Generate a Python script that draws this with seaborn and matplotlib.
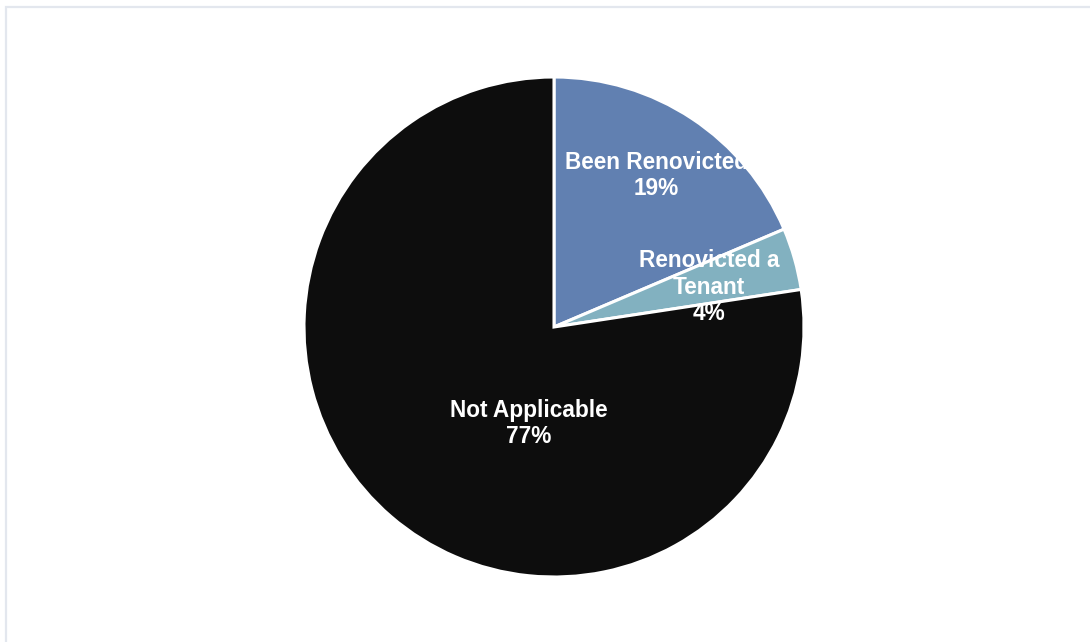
import matplotlib
matplotlib.use("Agg")
import matplotlib.pyplot as plt
from matplotlib.patches import Circle, Rectangle
import seaborn as sns

sns.set_theme(style="white")
plt.rcParams["font.family"] = ["Liberation Sans", "DejaVu Sans"]

# Data
categories = ["Been Renovicted", "Renovicted a\nTenant", "Not Applicable"]
shares = [18.6, 4.0, 77.4]
pct_labels = ["19%", "4%", "77%"]
colors = ["#6180B1", "#82B1C0", "#0D0D0D"]

# label centres in pie units (radius = 1)
label_xy = [(0.41, 0.605), (0.62, 0.16), (-0.10, -0.385)]

fig = plt.figure(figsize=(10.9, 6.42), dpi=100)
fig.patch.set_facecolor("white")

# light frame around the chart area
fig.add_artist(Rectangle((6 / 1090, -0.05), 1.2, 1 - 7 / 642 + 0.05,
                         transform=fig.transFigure, fill=False,
                         edgecolor="#E3E7EE", linewidth=1.6))

ax = fig.add_axes([304 / 1090, 65 / 642, 500 / 1090, 500 / 642])
wedges, _ = ax.pie(
    shares,
    colors=colors,
    startangle=90,
    counterclock=False,
    radius=1,
    wedgeprops={"edgecolor": "white", "linewidth": 2.2},
)
ax.set_xlim(-1, 1)
ax.set_ylim(-1, 1)
ax.set_aspect("equal")
ax.axis("off")

clip = Circle((0, 0), 1, transform=ax.transData)
for cat, pct, (x, y) in zip(categories, pct_labels, label_xy):
    t = ax.text(x, y, f"{cat}\n{pct}", ha="center", va="center",
                multialignment="center", color="white", fontsize=16.3,
                fontweight="bold", linespacing=1.17)
    t.set_clip_path(clip)

fig.savefig("out.png", dpi=100, facecolor="white")
